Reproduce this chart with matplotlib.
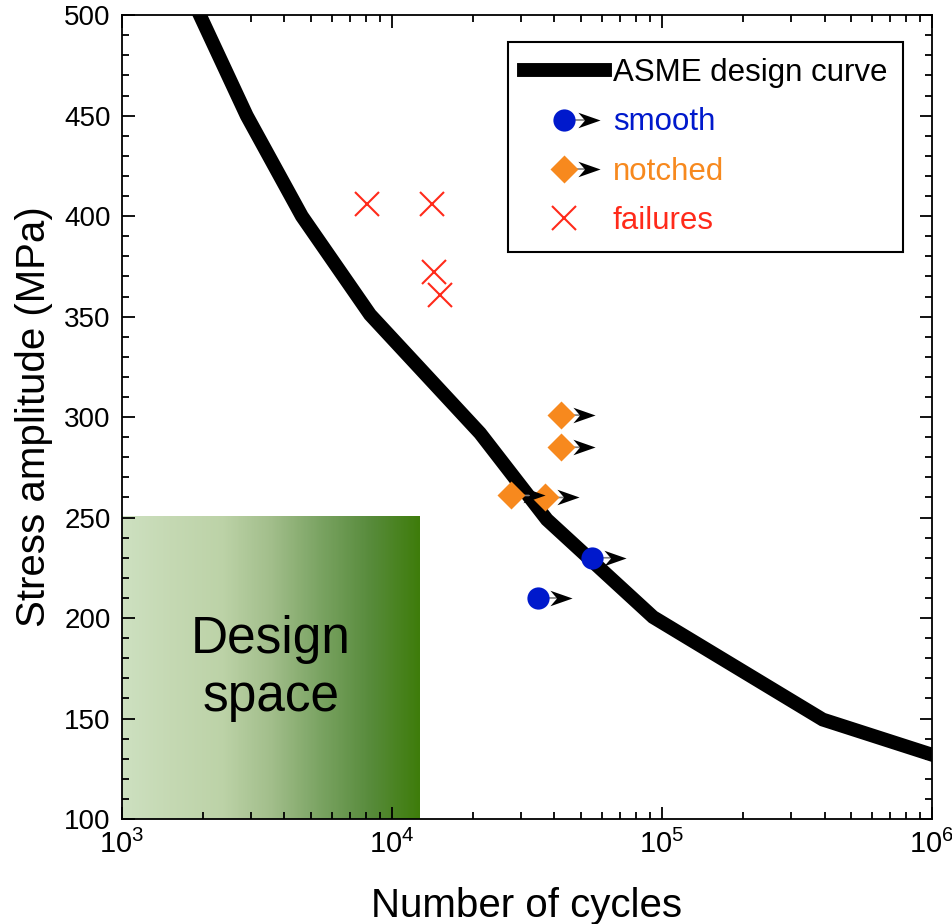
import numpy as np
import matplotlib
matplotlib.use('Agg')
from matplotlib import pyplot as plt
from matplotlib import transforms
from matplotlib.path import Path
from matplotlib.lines import Line2D
from matplotlib.legend_handler import HandlerBase
from matplotlib.colors import LinearSegmentedColormap
from matplotlib.ticker import MultipleLocator

plt.rcParams['font.family'] = ['Liberation Sans', 'DejaVu Sans']
plt.rcParams['mathtext.fontset'] = 'custom'
plt.rcParams['mathtext.rm'] = 'Liberation Sans'
plt.rcParams['mathtext.it'] = 'Liberation Sans'
plt.rcParams['mathtext.default'] = 'regular'

# ASME design curve
asme_N = [1945, 2900, 4640, 8300, 21200, 37500, 92700, 394000, 1000000]
asme_S = [500, 450, 400, 351, 292, 249, 200.5, 149.5, 132]

# run-outs (tests stopped without failure)
smooth_N = [34800, 55000]
smooth_S = [210, 230]
notched_N = [42300, 42300, 27600, 36900]
notched_S = [301, 285, 261, 260]

# failures
fail_N = [8070, 14070, 14300, 15100]
fail_S = [406, 406, 372, 361]

# design space box
box_N = [1000, 12700]
box_S = [100, 251]

blue = '#0019cc'
orange = '#f7891e'
red = '#ff2a1a'

# concave arrow head used for run-outs
head = Path([(1, 0), (-1, 0.7), (-0.4, 0), (-1, -0.7), (1, 0)],
            [Path.MOVETO, Path.LINETO, Path.LINETO, Path.LINETO, Path.CLOSEPOLY])

fig = plt.figure(figsize=(9.52, 9.24), dpi=100)
ax = fig.add_axes([0.128, 0.1136, 0.851, 0.870])

# gradient box
cmap = LinearSegmentedColormap.from_list('ds', ['#cde0c0', '#c4d8b2', '#bcd2a7', '#a2be8b',
                                                '#7aa362', '#588b3c', '#3e7c0b'])
xe = np.logspace(np.log10(box_N[0]), np.log10(box_N[1]), 300)
cc = np.linspace(0, 1, len(xe) - 1)[None, :]
ax.pcolormesh(xe, box_S, cc, cmap=cmap, shading='flat', zorder=1, rasterized=True)
ax.text(np.sqrt(box_N[0] * box_N[1]), 175, 'Design\nspace', fontsize=37,
        ha='center', va='center', linespacing=1.25, zorder=2)

ax.plot(asme_N, asme_S, color='black', lw=10, solid_joinstyle='miter', zorder=3,
        label='ASME design curve')

head_tr = transforms.offset_copy(ax.transData, fig=fig, x=16.5, y=0, units='points')
for N, S in zip(smooth_N + notched_N, smooth_S + notched_S):
    ax.annotate('', xy=(N, S), xytext=(20, 0), textcoords='offset points',
                arrowprops=dict(arrowstyle='-', color='gray', lw=1.2, shrinkA=0, shrinkB=0),
                zorder=4)
ax.plot(smooth_N, smooth_S, 'o', color=blue, ms=16, mec='none', zorder=5, label='smooth')
ax.plot(notched_N, notched_S, 'D', color=orange, ms=14.5, mec='none', zorder=5, label='notched')
ax.plot(smooth_N + notched_N, smooth_S + notched_S, ls='none', marker=head, ms=16,
        color='black', mec='none', transform=head_tr, zorder=6)
ax.plot(fail_N, fail_S, 'x', color=red, ms=17, mew=1.5, zorder=5, label='failures')


class RunoutHandler(HandlerBase):
    def create_artists(self, legend, orig_handle, xdescent, ydescent, width, height,
                       fontsize, trans):
        y = height / 2 - ydescent
        cx = 0.5 * width - xdescent
        hx = 0.81 * width - xdescent
        shaft = Line2D([cx, hx], [y, y], color='gray', lw=1.2, transform=trans)
        mk = Line2D([cx], [y], ls='none', marker=orig_handle.get_marker(),
                    color=orig_handle.get_color(), ms=orig_handle.get_markersize(),
                    mec='none', transform=trans)
        hd = Line2D([hx], [y], ls='none', marker=head, ms=16,
                    color='black', mec='none', transform=trans)
        return [shaft, mk, hd]


handles, labels = ax.get_legend_handles_labels()
leg = ax.legend(handles, labels, loc='upper right', bbox_to_anchor=(0.964, 0.966),
                borderaxespad=0, fontsize=22.5, fancybox=False, framealpha=1,
                edgecolor='black', handlelength=2.6, handletextpad=0.25,
                labelspacing=0.62, borderpad=0.5,
                labelcolor=['black', blue, orange, red],
                handler_map={handles[1]: RunoutHandler(), handles[2]: RunoutHandler()})
leg.get_frame().set_linewidth(1.5)

ax.set_xscale('log')
ax.set_xlim(1e3, 1e6)
ax.set_ylim(100, 500)
ax.yaxis.set_major_locator(MultipleLocator(50))
ax.yaxis.set_minor_locator(MultipleLocator(10))

fs = 29
ax.set_xlabel('Number of cycles', fontsize=fs, labelpad=20)
ax.set_ylabel('Stress amplitude (MPa)', fontsize=fs, labelpad=8)
ax.tick_params(axis='both', which='both', direction='in', top=True, right=True,
               labelsize=20, width=1.3)
ax.tick_params(axis='x', which='major', labelsize=21)
ax.tick_params(axis='both', which='major', length=9, pad=8)
ax.tick_params(axis='both', which='minor', length=5)
for sp in ax.spines.values():
    sp.set_linewidth(1.3)

plt.savefig('out.png', dpi=100)
